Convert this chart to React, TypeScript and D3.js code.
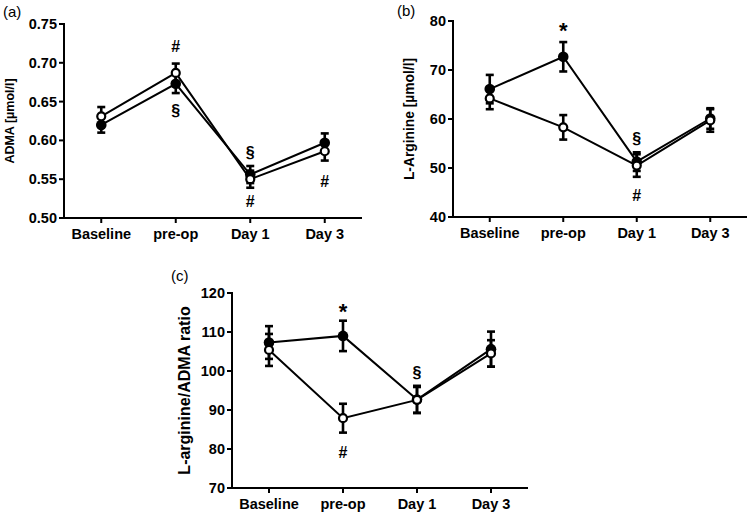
import React from "react";
import * as d3 from "d3";

const categories = ["Baseline", "pre-op", "Day 1", "Day 3"];

// Panel (a) ADMA
const admaFilled = [0.620, 0.673, 0.556, 0.597];
const admaFilledSem = [0.010, 0.012, 0.011, 0.012];
const admaOpen = [0.631, 0.687, 0.550, 0.586];
const admaOpenSem = [0.012, 0.012, 0.011, 0.012];
const admaTicks = [0.5, 0.55, 0.6, 0.65, 0.7, 0.75];

// Panel (b) L-Arginine
const argFilled = [66.1, 72.7, 51.3, 60.1];
const argFilledSem = [2.9, 3.0, 1.9, 2.1];
const argOpen = [64.2, 58.3, 50.5, 59.7];
const argOpenSem = [2.2, 2.5, 2.3, 2.3];
const argTicks = [40, 50, 60, 70, 80];

// Panel (c) ratio
const ratioFilled = [107.3, 109.0, 92.7, 105.6];
const ratioFilledSem = [4.2, 3.9, 3.5, 4.5];
const ratioOpen = [105.4, 87.9, 92.6, 104.5];
const ratioOpenSem = [4.1, 3.7, 3.3, 3.4];
const ratioTicks = [70, 80, 90, 100, 110, 120];

// Annotations: [category, symbol, y in data units]
const admaNotes: [string, string, number][] = [
  ["pre-op", "#", 0.721],
  ["pre-op", "§", 0.639],
  ["Day 1", "§", 0.584],
  ["Day 1", "#", 0.522],
  ["Day 3", "#", 0.547],
];
const argNotes: [string, string, number][] = [
  ["pre-op", "*", 79.6],
  ["Day 1", "§", 56.1],
  ["Day 1", "#", 44.5],
];
const ratioNotes: [string, string, number][] = [
  ["pre-op", "*", 117.4],
  ["pre-op", "#", 79.2],
  ["Day 1", "§", 99.7],
];

const FONT = "'Liberation Sans', Arial, Helvetica, sans-serif";

type PanelProps = {
  label: string;
  yTitle: string;
  titleSize: number;
  titleX: number;
  x0: number;
  x1: number;
  yTop: number;
  yBottom: number;
  domain: [number, number];
  ticks: number[];
  fmt: (v: number) => string;
  filled: number[];
  filledSem: number[];
  open: number[];
  openSem: number[];
  notes: [string, string, number][];
  labelX: number;
  labelY: number;
};

function Panel(p: PanelProps) {
  const x = d3.scalePoint<string>().domain(categories).range([p.x0, p.x1]).padding(0.5);
  const y = d3.scaleLinear().domain(p.domain).range([p.yBottom, p.yTop]);
  const line = d3
    .line<number>()
    .x((_, i) => x(categories[i]) as number)
    .y((d) => y(d));
  const cap = 4;
  const errBars = (vals: number[], sem: number[], key: string) =>
    vals.map((v, i) => {
      const cx = x(categories[i]) as number;
      const t = y(v + sem[i]);
      const b = y(v - sem[i]);
      return (
        <g key={key + i} stroke="#000" strokeWidth={2.6}>
          <line x1={cx} x2={cx} y1={t} y2={b} />
          <line x1={cx - cap} x2={cx + cap} y1={t} y2={t} />
          <line x1={cx - cap} x2={cx + cap} y1={b} y2={b} />
        </g>
      );
    });
  return (
    <g>
      <text x={p.labelX} y={p.labelY} fontFamily={FONT} fontSize={15} fill="#000">
        {p.label}
      </text>
      <line x1={p.x0} x2={p.x0} y1={p.yTop - 1} y2={p.yBottom + 1} stroke="#000" strokeWidth={2} />
      <line x1={p.x0 - 1} x2={p.x1} y1={p.yBottom} y2={p.yBottom} stroke="#000" strokeWidth={2} />
      {p.ticks.map((t) => (
        <g key={"yt" + t}>
          <line x1={p.x0 - 5} x2={p.x0} y1={y(t)} y2={y(t)} stroke="#000" strokeWidth={2} />
          <text
            x={p.x0 - 7}
            y={y(t)}
            dy="0.35em"
            textAnchor="end"
            fontFamily={FONT}
            fontWeight="bold"
            fontSize={14.5}
            fill="#000"
          >
            {p.fmt(t)}
          </text>
        </g>
      ))}
      {categories.map((c) => (
        <g key={"xt" + c}>
          <line
            x1={x(c) as number}
            x2={x(c) as number}
            y1={p.yBottom}
            y2={p.yBottom + 5}
            stroke="#000"
            strokeWidth={2}
          />
          <text
            x={x(c) as number}
            y={p.yBottom + 21}
            textAnchor="middle"
            fontFamily={FONT}
            fontWeight="bold"
            fontSize={14.5}
            fill="#000"
          >
            {c}
          </text>
        </g>
      ))}
      <text
        transform={`translate(${p.titleX},${(p.yTop + p.yBottom) / 2}) rotate(-90)`}
        textAnchor="middle"
        dy="0.35em"
        fontFamily={FONT}
        fontWeight="bold"
        fontSize={p.titleSize}
        fill="#000"
      >
        {p.yTitle}
      </text>
      <path d={line(p.open) || ""} fill="none" stroke="#000" strokeWidth={2} />
      <path d={line(p.filled) || ""} fill="none" stroke="#000" strokeWidth={2} />
      {errBars(p.open, p.openSem, "eo")}
      {errBars(p.filled, p.filledSem, "ef")}
      {p.filled.map((v, i) => (
        <circle key={"f" + i} cx={x(categories[i]) as number} cy={y(v)} r={5.3} fill="#000" />
      ))}
      {p.open.map((v, i) => (
        <circle
          key={"o" + i}
          cx={x(categories[i]) as number}
          cy={y(v)}
          r={4}
          fill="#fff"
          stroke="#000"
          strokeWidth={2.2}
        />
      ))}
      {p.notes.map(([c, s, v], i) => (
        <text
          key={"n" + i}
          x={x(c) as number}
          y={y(v)}
          dy={s === "*" ? "0.7em" : "0.35em"}
          textAnchor="middle"
          fontFamily={FONT}
          fontWeight="bold"
          fontSize={s === "*" ? 22 : 16}
          fill="#000"
        >
          {s}
        </text>
      ))}
    </g>
  );
}

export default function App() {
  return (
    <svg
      width={751}
      height={515}
      style={{ position: "absolute", left: 0, top: 0, background: "#fff" }}
    >
      <rect width={751} height={515} fill="#fff" />
      <Panel
        label="(a)"
        yTitle="ADMA [µmol/l]"
        titleSize={12.5}
        titleX={10}
        x0={64}
        x1={362}
        yTop={24}
        yBottom={218}
        domain={[0.5, 0.75]}
        ticks={admaTicks}
        fmt={d3.format(".2f")}
        filled={admaFilled}
        filledSem={admaFilledSem}
        open={admaOpen}
        openSem={admaOpenSem}
        notes={admaNotes}
        labelX={3}
        labelY={17}
      />
      <Panel
        label="(b)"
        yTitle="L-Arginine [µmol/l]"
        titleSize={13.8}
        titleX={409}
        x0={453}
        x1={747}
        yTop={21}
        yBottom={217}
        domain={[40, 80]}
        ticks={argTicks}
        fmt={d3.format("d")}
        filled={argFilled}
        filledSem={argFilledSem}
        open={argOpen}
        openSem={argOpenSem}
        notes={argNotes}
        labelX={397}
        labelY={16}
      />
      <Panel
        label="(c)"
        yTitle="L-arginine/ADMA ratio"
        titleSize={16}
        titleX={184}
        x0={232}
        x1={528}
        yTop={293}
        yBottom={488}
        domain={[70, 120]}
        ticks={ratioTicks}
        fmt={d3.format("d")}
        filled={ratioFilled}
        filledSem={ratioFilledSem}
        open={ratioOpen}
        openSem={ratioOpenSem}
        notes={ratioNotes}
        labelX={171}
        labelY={281}
      />
    </svg>
  );
}
